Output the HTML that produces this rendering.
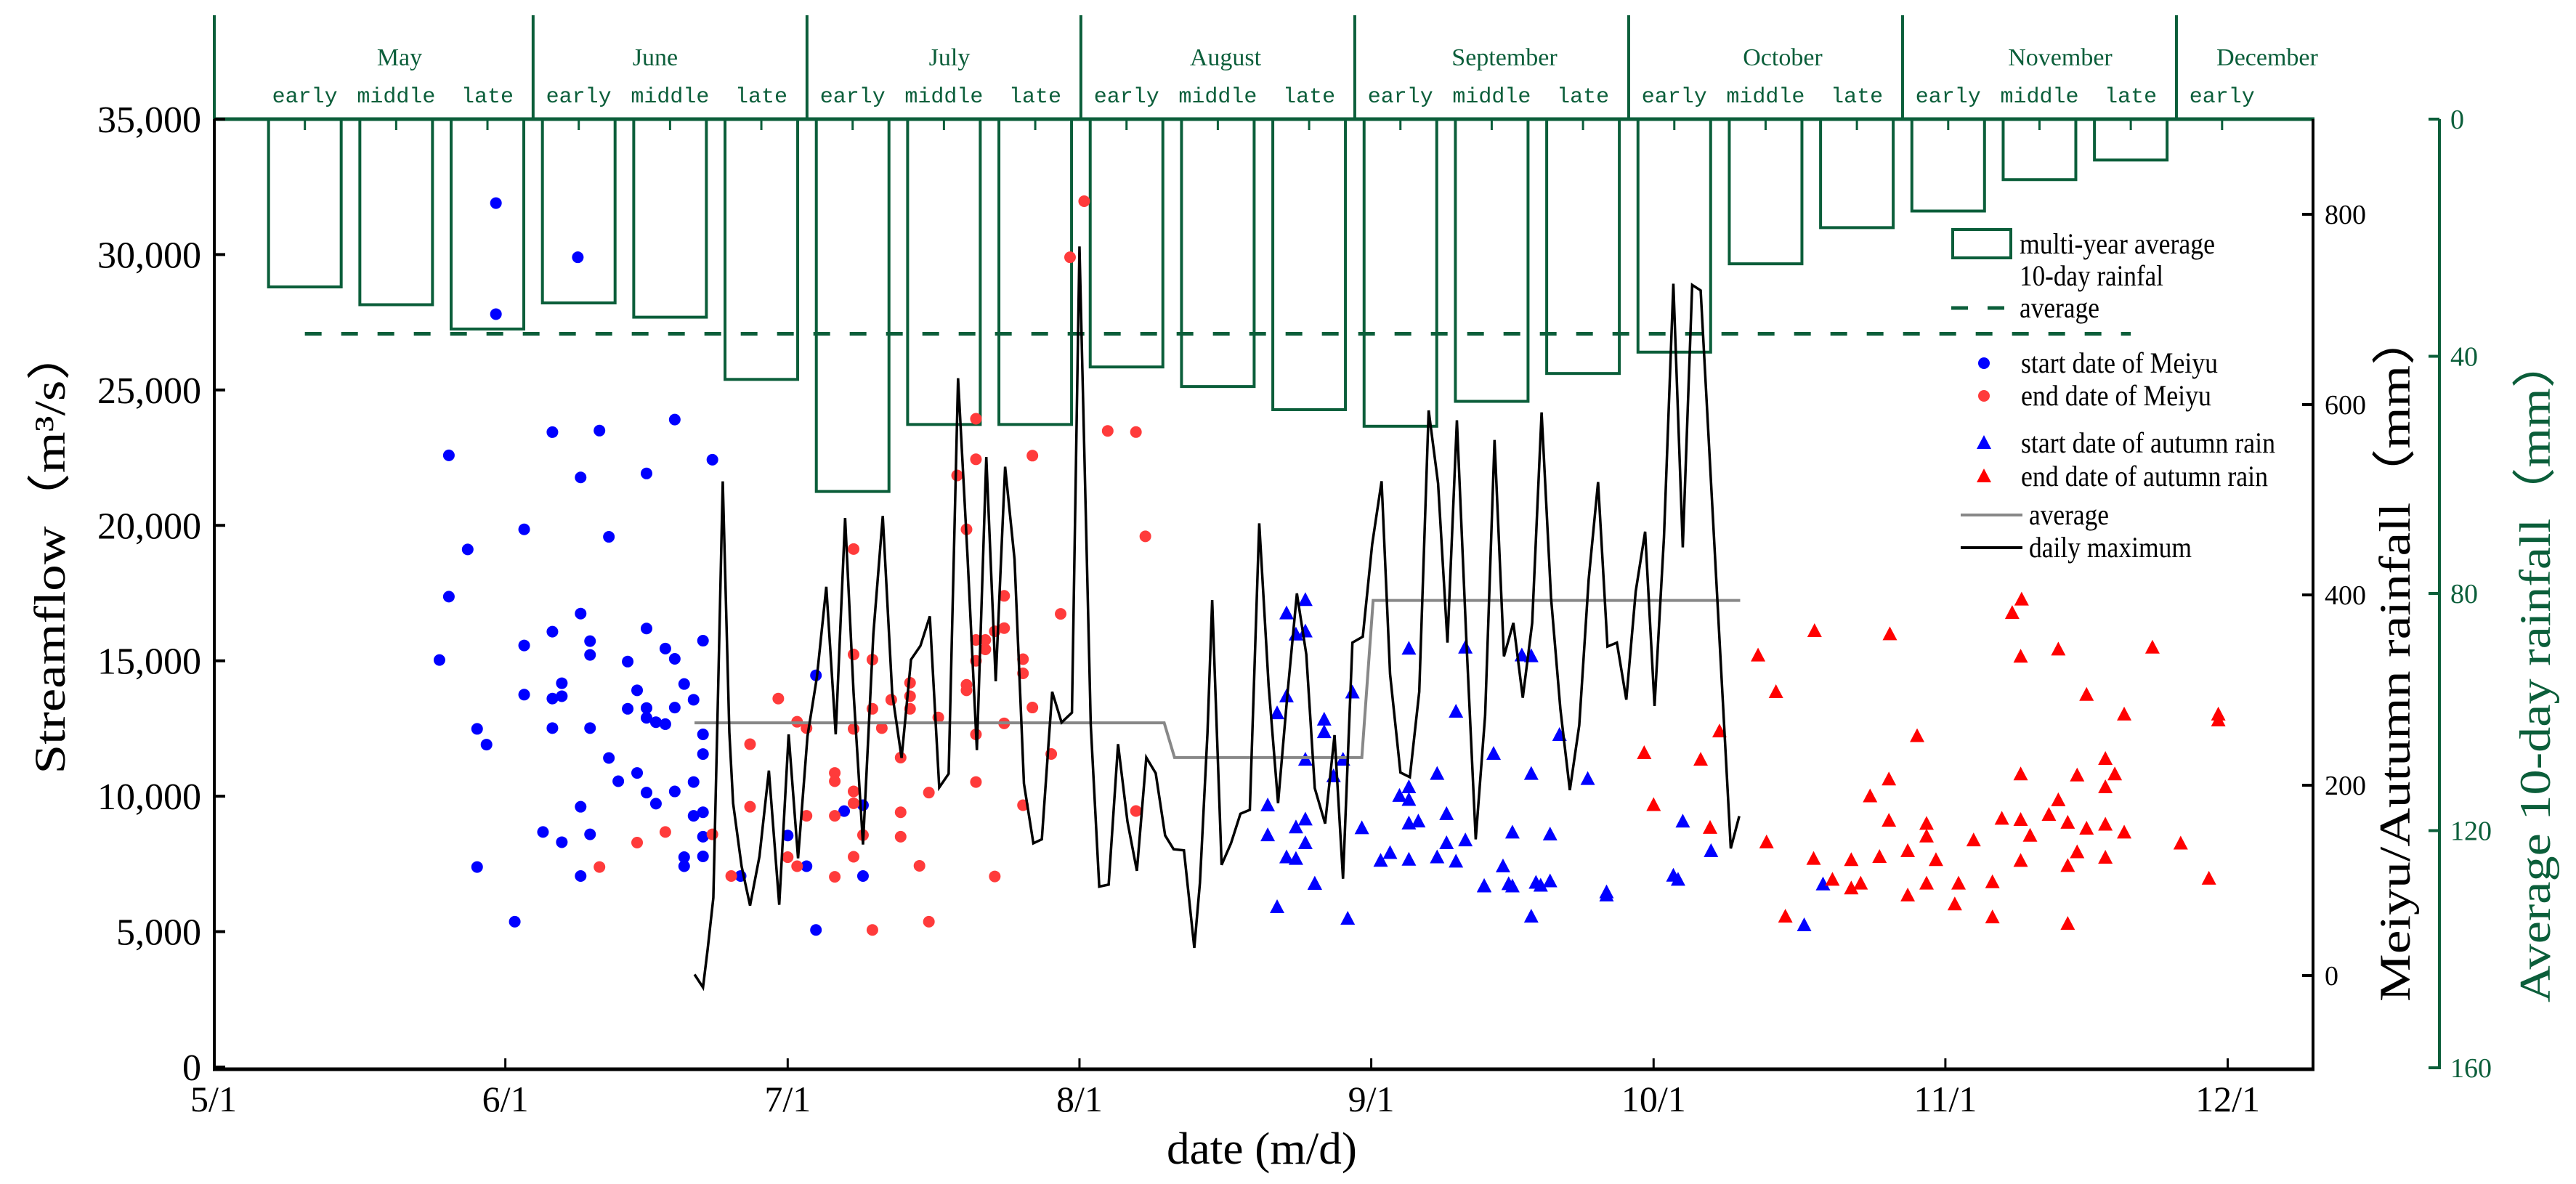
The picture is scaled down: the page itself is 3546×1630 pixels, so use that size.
<!DOCTYPE html>
<html><head><meta charset="utf-8"><style>
html,body{margin:0;padding:0;background:#fff}
svg{display:block}
text{font-family:"Liberation Serif",serif}
.mono{font-family:"Liberation Mono",monospace}
</style></head><body>
<svg id="chart" xmlns="http://www.w3.org/2000/svg" width="3546" height="1630" viewBox="0 0 3546 1630">
<g id="g-bars"></g>
<g id="g-header"></g>
<g id="g-axes"></g>
<g id="g-series"></g>
<g id="g-legend"></g>
</svg>
<script>
// ---------- data ----------
const periodLabels = ["early","middle","late"];
const monthNames = ["May","June","July","August","September","October","November","December"];
const monthLabelX = [550,902,1307,1687,2071,2454,2836,3121];
const tenDayRain = [28.3,31.3,35.4,31.0,33.4,43.9,62.8,51.5,51.5,41.8,45.1,49.0,51.8,47.6,42.9,39.3,24.4,18.3,15.5,10.2,6.9];
const tenDayAvg = 36.2;
const xTickLabels = ["5/1","6/1","7/1","8/1","9/1","10/1","11/1","12/1"];
const xTickDays = [0,31,61,92,123,153,184,214];
const yTicks = [0,5000,10000,15000,20000,25000,30000,35000];
const rTicks = [0,200,400,600,800];
const gTicks = [0,40,80,120,160];

const meiyuStartDay = [30,30,38.7,25,36,41,49,39,46,53,33,27,42,25,39,36,46,33,40,40,24,44,48,49,52,37,45,50,33,36,37,51,44,46,49,46,47,48,28,36,40,29,52,52,42,43,45,51,46,49,47,39,51,52,35,37,40,52,28,39,50,50,52,32,64,61,63,56,67,69,69,64];
const meiyuStartFlow = [31900,27800,29900,22585,23443,23500,23907,21771,21917,22425,19853,19112,19577,17369,16744,16076,16192,15567,15727,15218,15030,14971,15451,15073,15742,14172,13911,14143,13751,13606,13693,13562,13228,13257,13272,12893,12734,12661,12487,12516,12516,11906,12284,11557,11412,10554,10860,10525,10133,10177,9726,9610,9276,9407,8680,8302,8593,8506,7387,7053,7750,7416,7779,5367,14463,8549,7416,7053,9450,9668,7053,5062];
const meiyuEndDay = [60,62,63,57,57,53,48,45,41,55,61,62,63,66,66,66,66,68,68,70,70,68,71,68,68,69,68,70,72,74,74,74,73,73,73,75,76,76,77,81,81,79,80,84,83,84,81,82,82,81,80,80,81,84,81,83,86,86,86,95,98,87,99,90,87,89,98,92.5,91];
const meiyuEndFlow = [13606,12748,12516,11920,9610,8593,8680,8288,7387,7053,7750,7416,9276,10860,10554,9276,7024,19127,15233,15044,13228,12487,12516,10177,9740,8564,7764,5062,13562,14187,13693,13228,11426,9407,8506,7430,10133,5367,12908,23936,22440,21844,19853,17398,16090,16206,15770,15770,15422,15000,14114,13911,12284,12690,10525,7038,15059,14536,9668,23489,23446,22574,19595,16733,13275,11560,9454,31970,29900];
const autumnStartDay = [116,114,115,116,114,113,118,118,116,120,119,121,112,116,115,112,116,114,115,117,122,127,133,139,140,132,143,136,130,140,146,127,126,127,131,127,128,125,124,127,130,131,133,132,138,142,137,135,138,141,142,148,113,117,120.5,135,137.6,140,140.5,148,155.6,169,171,156.1,159.1,155.1];
const autumnStartFlow = [17240,16747,15963,16079,13682,13057,12824,12359,11342,11342,10732,13827,9656,9134,8843,8553,8262,7739,7681,6766,8814,15440,15483,15193,15164,13115,12258,11560,10819,10819,10630,10325,10006,9860,9337,8988,9061,7899,7609,7652,7739,8262,8364,7580,8654,8582,7405,6664,6664,6693,6853,6446,5900,6760,5470,6680,6750,5550,6800,6330,6910,5230,6740,9060,7970,7060];
const autumnEndDay = [192.1,191.1,170.1,178.1,164.1,192,196,206,166,199,203,213,213,160,181,152,158,201,192,198,202,201,178,176,196,153,159,178,182,182,190,192,195,197,199,201,203,193,187,165,209,170,174,177,180,183,192,198,201,197,167,172,174,175,180,182,185.4,185,189,189,197,212];
const autumnEndFlow = [17254,16760,16092,15975,15191,15148,15410,15482,13840,13738,13012,13012,12794,12387,12213,11587,11341,11370,10803,10760,10803,10324,10614,9990,9845,9670,8827,9090,8973,8508,9162,9118,9307,9016,8798,8944,8653,8537,8363,8290,8247,7680,7636,7752,7970,7636,7607,7926,7723,7418,5550,6910,6590,6770,6330,6770,6770,6000,6820,5520,5280,6950];
const dailyMaxDay = [51.1,52.0,52.5,53.1,53.6,54.1,54.8,55.2,56.1,57.0,58.0,59.0,60.1,61.1,62.1,63.1,64.1,65.1,66.1,67.1,68.0,69.0,70.1,71.1,72.1,73.1,74.1,75.1,76.1,77.1,78.1,79.1,80.1,81.1,82.1,83.1,84.1,85.1,86.1,87.1,88.0,89.1,90.1,91.2,92,93.2,94.1,95.1,96.1,97.1,98.1,99.1,100.1,101.1,102.0,103.1,104.2,104.8,105.6,106.1,107.1,108.1,109.1,110.1,111.1,112.1,113.1,114.1,115.1,116.1,117.0,118.1,119.1,120.0,121.0,122.1,123.1,124.1,125.0,126.1,127.1,128.1,129.1,130.1,131.1,132.1,133.1,134.1,135.1,136.1,137.1,138.1,139.1,140.1,141.1,142.1,143.1,144.1,145.1,146.1,147.1,148.1,149.1,150.1,151.1,152.1,153.1,154.1,155.1,156.1,157.1,158.0,161.2,162.1];
const dailyMaxFlow = [3420,2940,4365,6250,13810,21627,12355,9740,7416,5963,7780,10946,5992,12284,7706,12211,14390,17732,12284,20275,13809,8216,15989,20347,13809,11412,15044,15553,16643,10322,10830,25433,18895,11702,22527,14245,22164,18749,10467,8262,8408,13856,12722,13086,30300,12621,6663,6736,11924,9061,7245,11429,10848,8553,8044,8001,4400,6808,12330,17242,7464,8262,9352,9497,20075,14074,9744,13783,17488,15236,10296,8989,12258,6954,15672,15890,19305,21630,14510,10877,10702,13856,24245,21557,15672,23882,15817,8408,12984,23155,15164,16398,13638,16398,24172,17343,13202,10223,12621,17997,21600,15527,15672,13566,17561,19768,13331,19550,28922,19187,28878,28675,8072,9264];
const avgFlowDay = [51.1,101,102.1,122.0,123.2,162.2];
const avgFlowVal = [12710,12710,11430,11430,17230,17230];

// ---------- scales ----------
const NS="http://www.w3.org/2000/svg";
const X0=294, PXD=12.956, YB=1469, YT=164;
const xS=d=>X0+d*PXD;
const yS=v=>YB-v*(YB-YT)/35000;
const gS=mm=>YT+mm*(1470-YT)/160;
const rS=mm=>1343-mm*262/200;
const periodCenter=k=>(k+1)*9.7;
const GREEN="#0b5e3a";
function mk(tag,attrs,parent,txt){const e=document.createElementNS(NS,tag);for(const k in attrs)e.setAttribute(k,attrs[k]);if(txt!==undefined)e.textContent=txt;parent.appendChild(e);return e;}
const gBars=document.getElementById('g-bars'),gHead=document.getElementById('g-header'),gAx=document.getElementById('g-axes'),gSer=document.getElementById('g-series'),gLeg=document.getElementById('g-legend');

// ---------- rainfall bars ----------
tenDayRain.forEach((v,i)=>{
  const cx=xS(periodCenter(i));
  const r=mk('rect',{x:cx-50,y:YT,width:100,height:gS(v)-YT,fill:'none',stroke:GREEN,'stroke-width':4},gBars);
  
  
});
const avgL=mk('line',{x1:xS(periodCenter(0)),x2:xS(periodCenter(20)),y1:gS(tenDayAvg),y2:gS(tenDayAvg),stroke:GREEN,'stroke-width':5,'stroke-dasharray':'23 27'},gBars);



// ---------- header ----------
mk('line',{x1:295,x2:295,y1:21,y2:164,stroke:GREEN,'stroke-width':4},gHead);
for(let m=1;m<=7;m++){const x=xS((3*m+0.5)*9.7);mk('line',{x1:x,x2:x,y1:21,y2:164,stroke:GREEN,'stroke-width':4},gHead);}
monthNames.forEach((n,i)=>{
  const t=mk('text',{x:monthLabelX[i],y:90,'font-size':34,fill:GREEN,'text-anchor':'middle'},gHead,n);
  
  
});
for(let k=0;k<22;k++){
  const cx=xS(periodCenter(k));
  const t=mk('text',{x:cx,y:141,'font-size':30,fill:GREEN,'text-anchor':'middle','class':'mono'},gHead,periodLabels[k%3]);
  
  
  mk('line',{x1:cx,x2:cx,y1:164,y2:179,stroke:GREEN,'stroke-width':3},gHead);
}
mk('line',{x1:293,x2:3186,y1:164,y2:164,stroke:GREEN,'stroke-width':5},gHead);

// ---------- axes ----------
mk('line',{x1:295,x2:295,y1:164,y2:1474,stroke:'#000','stroke-width':4},gAx);
mk('line',{x1:3184,x2:3184,y1:164,y2:1474,stroke:'#000','stroke-width':4},gAx);
mk('line',{x1:293,x2:3186,y1:1472,y2:1472,stroke:'#000','stroke-width':5},gAx);
yTicks.forEach(v=>{
  const y=yS(v);
  mk('line',{x1:295,x2:310,y1:y,y2:y,stroke:'#000','stroke-width':4},gAx);
  const t=mk('text',{x:277,y:y+18,'font-size':52,'text-anchor':'end',fill:'#000'},gAx,v.toLocaleString('en-US'));
  
  
});
xTickDays.forEach((d,i)=>{
  const x=xS(d);
  if(i>0)mk('line',{x1:x,x2:x,y1:1457,y2:1472,stroke:'#000','stroke-width':3},gAx);
  const t=mk('text',{x:x,y:1530,'font-size':50,'text-anchor':'middle',fill:'#000'},gAx,xTickLabels[i]);
  
  
});
rTicks.forEach(v=>{
  const y=rS(v);
  mk('line',{x1:3169,x2:3184,y1:y,y2:y,stroke:'#000','stroke-width':4},gAx);
  const t=mk('text',{x:3200,y:y+13,'font-size':38,fill:'#000'},gAx,String(v));
  
  
});
mk('line',{x1:3358,x2:3358,y1:164,y2:1472,stroke:GREEN,'stroke-width':4},gAx);
gTicks.forEach(v=>{
  const y=gS(v);
  mk('line',{x1:3343,x2:3358,y1:y,y2:y,stroke:GREEN,'stroke-width':4},gAx);
  const t=mk('text',{x:3373,y:y+13,'font-size':38,fill:GREEN},gAx,String(v));
  
  
});
let t;
t=mk('text',{x:0,y:0,'font-size':60,'text-anchor':'middle',fill:'#000',transform:'translate(89,758) rotate(-90)',textLength:615,lengthAdjust:'spacingAndGlyphs'},gAx,'Streamflow（m³/s）');

t=mk('text',{x:1737,y:1602,'font-size':62,'text-anchor':'middle',fill:'#000',textLength:262,lengthAdjust:'spacingAndGlyphs'},gAx,'date (m/d)');

t=mk('text',{x:0,y:0,'font-size':60,'text-anchor':'middle',fill:'#000',transform:'translate(3317,904) rotate(-90)',textLength:950,lengthAdjust:'spacingAndGlyphs'},gAx,'Meiyu/Autumn rainfall（mm）');

t=mk('text',{x:0,y:0,'font-size':60,'text-anchor':'middle',fill:GREEN,transform:'translate(3510,922) rotate(-90)',textLength:916,lengthAdjust:'spacingAndGlyphs'},gAx,'Average 10-day rainfall（mm）');


// ---------- series ----------
function tri(cx,cy,col,name){const p=mk('polygon',{points:`${cx},${cy-11} ${cx-10},${cy+8} ${cx+10},${cy+8}`,fill:col},gSer);}
meiyuStartDay.forEach((d,i)=>{const c=mk('circle',{cx:xS(d),cy:yS(meiyuStartFlow[i]),r:8,fill:'#0000ff'},gSer);});
meiyuEndDay.forEach((d,i)=>{const c=mk('circle',{cx:xS(d),cy:yS(meiyuEndFlow[i]),r:8,fill:'#ff3b3b'},gSer);});
autumnStartDay.forEach((d,i)=>tri(xS(d),yS(autumnStartFlow[i]),'#0000ff','autumn-start-point'));
autumnEndDay.forEach((d,i)=>tri(xS(d),yS(autumnEndFlow[i]),'#ff0000','autumn-end-point'));
const avgPath=mk('polyline',{points:avgFlowDay.map((d,i)=>xS(d)+','+yS(avgFlowVal[i])).join(' '),fill:'none',stroke:'#888','stroke-width':4},gSer);


const maxPath=mk('polyline',{points:dailyMaxDay.map((d,i)=>xS(d)+','+yS(dailyMaxFlow[i])).join(' '),fill:'none',stroke:'#000','stroke-width':3.5,'stroke-linejoin':'miter'},gSer);



// ---------- legend ----------
function lt(x,y,s,name,w){const e=mk('text',{x:x,y:y+13,'font-size':40,fill:'#000',textLength:w,lengthAdjust:'spacingAndGlyphs'},gLeg,s);}
mk('rect',{x:2688,y:316,width:80,height:39,fill:'none',stroke:GREEN,'stroke-width':4},gLeg);
lt(2780,336,'multi-year average','legend-rainfall-bar',269);
lt(2780,380,'10-day rainfal','legend-rainfall-bar-2',198);
mk('line',{x1:2686,x2:2762,y1:424,y2:424,stroke:GREEN,'stroke-width':5,'stroke-dasharray':'23 27'},gLeg);
lt(2780,424,'average','legend-rainfall-average',110);
mk('circle',{cx:2731,cy:500,r:8,fill:'#0000ff'},gLeg);
lt(2782,500,'start date of Meiyu','legend-meiyu-start',271);
mk('circle',{cx:2731,cy:545,r:8,fill:'#ff3b3b'},gLeg);
lt(2782,545,'end date of Meiyu','legend-meiyu-end',262);
mk('polygon',{points:'2731,599 2721,618 2741,618',fill:'#0000ff'},gLeg);
lt(2782,610,'start date of autumn rain','legend-autumn-start',350);
mk('polygon',{points:'2731,645 2721,664 2741,664',fill:'#ff0000'},gLeg);
lt(2782,656,'end date of autumn rain','legend-autumn-end',340);
mk('line',{x1:2699,x2:2784,y1:709,y2:709,stroke:'#888','stroke-width':4},gLeg);
lt(2793,709,'average','legend-average-streamflow',110);
mk('line',{x1:2699,x2:2784,y1:754,y2:754,stroke:'#000','stroke-width':4},gLeg);
lt(2793,754,'daily maximum','legend-daily-maximum',224);
</script>
</body></html>
